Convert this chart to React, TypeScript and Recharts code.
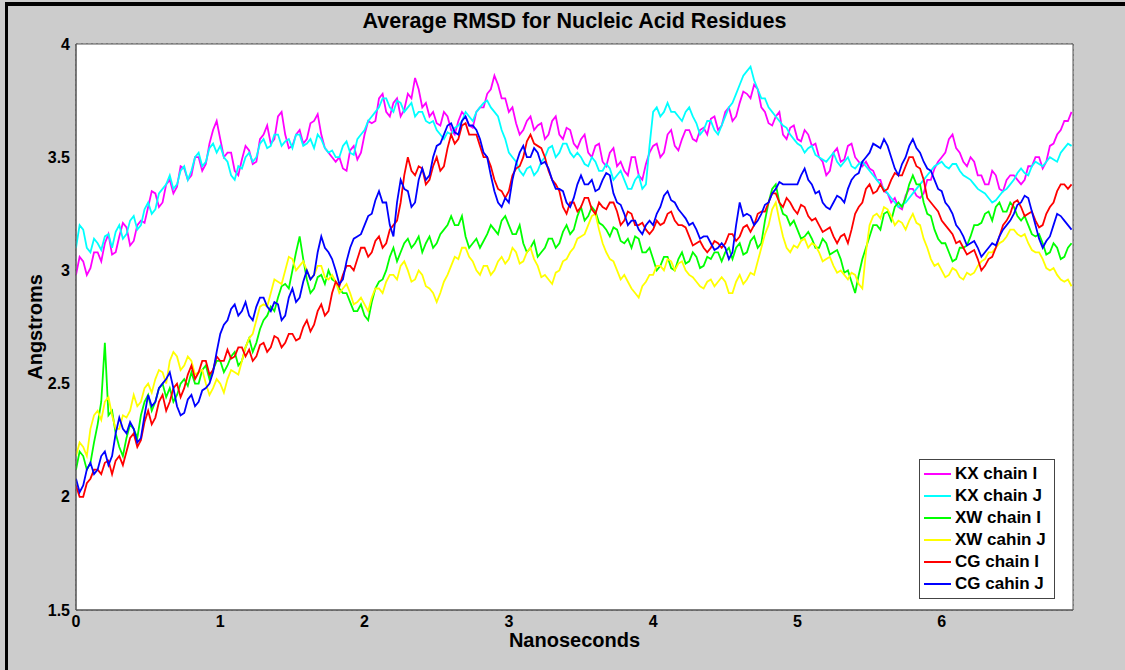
import React from 'react';
import { LineChart, Line, XAxis, YAxis, CartesianGrid, Legend, ReferenceArea } from 'recharts';

// samples every 0.05 ns (0 .. 6.9) plus the in-between samples at +0.025 ns
const SAMPLE_STEP = 0.05;

const kxChainI = [
  2.98, 3.04, 3.01, 3.08, 3.12, 3.07, 3.15, 3.19, 3.13, 3.22,
  3.28, 3.34, 3.3, 3.4, 3.37, 3.45, 3.42, 3.5, 3.47, 3.62,
  3.58, 3.52, 3.44, 3.49, 3.53, 3.48, 3.6, 3.56, 3.68, 3.6,
  3.55, 3.62, 3.58, 3.66, 3.6, 3.52, 3.48, 3.45, 3.53, 3.49,
  3.6, 3.65, 3.76, 3.7, 3.74, 3.68, 3.78, 3.85, 3.72, 3.68,
  3.65, 3.7, 3.62, 3.66, 3.68, 3.63, 3.72, 3.78, 3.86, 3.76,
  3.7, 3.65, 3.62, 3.68, 3.64, 3.58, 3.66, 3.6, 3.63, 3.56,
  3.58, 3.52, 3.55, 3.48, 3.52, 3.46, 3.44, 3.5, 3.42, 3.47,
  3.55, 3.5, 3.6, 3.55, 3.58, 3.62, 3.57, 3.63, 3.67, 3.62,
  3.7, 3.66, 3.74, 3.78, 3.82, 3.72, 3.65, 3.68, 3.6, 3.63,
  3.58, 3.62, 3.55, 3.5, 3.42, 3.52, 3.48, 3.55, 3.5, 3.46,
  3.45, 3.4, 3.35, 3.3, 3.28, 3.33, 3.36, 3.32, 3.4, 3.45,
  3.5, 3.58, 3.54, 3.48, 3.5, 3.42, 3.38, 3.44, 3.36, 3.4,
  3.42, 3.38, 3.46, 3.5, 3.45, 3.55, 3.6, 3.66, 3.7,
];
const kxChainIMid = [
  3.06, 2.98, 3.08, 3.04, 3.16, 3.08, 3.21, 3.11, 3.2, 3.21,
  3.35, 3.28, 3.38, 3.34, 3.46, 3.4, 3.5, 3.44, 3.56, 3.66,
  3.5, 3.52, 3.42, 3.55, 3.47, 3.58, 3.64, 3.58, 3.7, 3.54,
  3.6, 3.56, 3.65, 3.69, 3.54, 3.5, 3.5, 3.44, 3.55, 3.52,
  3.66, 3.66, 3.78, 3.68, 3.76, 3.71, 3.76, 3.8, 3.74, 3.7,
  3.64, 3.68, 3.6, 3.7, 3.64, 3.7, 3.72, 3.8, 3.82, 3.76,
  3.72, 3.6, 3.66, 3.62, 3.65, 3.6, 3.68, 3.58, 3.62, 3.54,
  3.6, 3.5, 3.56, 3.46, 3.54, 3.48, 3.42, 3.5, 3.4, 3.52,
  3.56, 3.52, 3.62, 3.53, 3.62, 3.58, 3.62, 3.6, 3.68, 3.64,
  3.72, 3.68, 3.79, 3.76, 3.8, 3.7, 3.64, 3.7, 3.58, 3.64,
  3.57, 3.6, 3.56, 3.48, 3.44, 3.54, 3.49, 3.56, 3.48, 3.48,
  3.44, 3.4, 3.34, 3.32, 3.27, 3.36, 3.33, 3.34, 3.4, 3.48,
  3.52, 3.6, 3.52, 3.46, 3.48, 3.42, 3.38, 3.42, 3.35, 3.42,
  3.4, 3.4, 3.46, 3.5, 3.48, 3.56, 3.62, 3.66,
];

const kxChainJ = [
  3.1, 3.18, 3.08, 3.12, 3.15, 3.1, 3.2, 3.16, 3.24, 3.2,
  3.3, 3.27, 3.36, 3.42, 3.38, 3.46, 3.44, 3.52, 3.48, 3.56,
  3.55, 3.48, 3.4, 3.45, 3.52, 3.5, 3.58, 3.55, 3.6, 3.57,
  3.54, 3.6, 3.56, 3.54, 3.58, 3.52, 3.5, 3.55, 3.52, 3.58,
  3.62, 3.68, 3.72, 3.76, 3.7, 3.74, 3.72, 3.68, 3.7, 3.65,
  3.62, 3.58, 3.6, 3.64, 3.7, 3.66, 3.72, 3.75, 3.7, 3.62,
  3.52, 3.48, 3.42, 3.46, 3.44, 3.5, 3.55, 3.52, 3.56, 3.5,
  3.5, 3.46, 3.48, 3.44, 3.45, 3.42, 3.4, 3.36, 3.42, 3.38,
  3.7, 3.68, 3.74, 3.7, 3.66, 3.72, 3.65, 3.62, 3.66, 3.6,
  3.68, 3.74, 3.82, 3.88, 3.84, 3.76, 3.72, 3.68, 3.64, 3.6,
  3.56, 3.52, 3.55, 3.5, 3.48, 3.52, 3.46, 3.5, 3.45, 3.48,
  3.44, 3.4, 3.36, 3.32, 3.28, 3.3, 3.34, 3.38, 3.42, 3.46,
  3.48, 3.45, 3.47, 3.42, 3.4, 3.36, 3.34, 3.3, 3.33, 3.36,
  3.4, 3.45, 3.42, 3.48, 3.46, 3.5, 3.48, 3.54, 3.55,
];
const kxChainJMid = [
  3.2, 3.1, 3.14, 3.09, 3.16, 3.17, 3.14, 3.22, 3.18, 3.27,
  3.25, 3.34, 3.38, 3.36, 3.44, 3.4, 3.5, 3.46, 3.54, 3.52,
  3.5, 3.42, 3.46, 3.5, 3.48, 3.56, 3.54, 3.6, 3.55, 3.58,
  3.6, 3.55, 3.58, 3.6, 3.54, 3.53, 3.5, 3.57, 3.51, 3.6,
  3.66, 3.7, 3.76, 3.72, 3.75, 3.7, 3.74, 3.7, 3.66, 3.66,
  3.6, 3.61, 3.63, 3.66, 3.68, 3.7, 3.74, 3.72, 3.68, 3.58,
  3.5, 3.44, 3.45, 3.42, 3.48, 3.54, 3.5, 3.56, 3.52, 3.52,
  3.47, 3.5, 3.44, 3.47, 3.4, 3.44, 3.36, 3.4, 3.36, 3.55,
  3.72, 3.7, 3.7, 3.68, 3.7, 3.68, 3.6, 3.66, 3.62, 3.64,
  3.72, 3.78, 3.86, 3.9, 3.8, 3.76, 3.7, 3.66, 3.63, 3.58,
  3.55, 3.54, 3.51, 3.49, 3.5, 3.48, 3.48, 3.46, 3.47, 3.46,
  3.42, 3.38, 3.34, 3.3, 3.29, 3.32, 3.36, 3.4, 3.44, 3.47,
  3.46, 3.47, 3.44, 3.41, 3.38, 3.35, 3.32, 3.31, 3.35, 3.38,
  3.43, 3.43, 3.46, 3.47, 3.48, 3.49, 3.52, 3.56,
];

const xwChainI = [
  2.12, 2.18, 2.15, 2.32, 2.68, 2.38, 2.22, 2.26, 2.3, 2.36,
  2.45, 2.42, 2.5, 2.48, 2.45, 2.52, 2.55, 2.5, 2.58, 2.56,
  2.6, 2.58, 2.64, 2.6, 2.7, 2.68, 2.78, 2.84, 2.88, 2.94,
  3.0, 3.15, 2.96, 2.92, 2.98, 3.0, 2.95, 2.9, 2.86, 2.82,
  2.8, 2.86, 2.95, 3.0, 3.1, 3.08, 3.14, 3.12, 3.08, 3.15,
  3.12, 3.18, 3.24, 3.2, 3.15, 3.12, 3.1, 3.16, 3.18, 3.22,
  3.2, 3.16, 3.12, 3.1, 3.06, 3.1, 3.14, 3.12, 3.2, 3.18,
  3.28, 3.24, 3.26, 3.2, 3.15, 3.18, 3.12, 3.1, 3.14, 3.08,
  3.05, 3.02, 3.06, 3.0, 3.08, 3.04, 3.06, 3.02, 3.05, 3.08,
  3.08, 3.05, 3.12, 3.08, 3.15, 3.12, 3.3, 3.38, 3.25, 3.2,
  3.18, 3.15, 3.14, 3.1, 3.12, 3.08, 3.05, 3.0, 2.9, 3.05,
  3.15, 3.2, 3.25, 3.22, 3.3, 3.32, 3.42, 3.38, 3.25, 3.18,
  3.12, 3.08, 3.05, 3.1, 3.15, 3.2, 3.25, 3.22, 3.3, 3.26,
  3.28, 3.22, 3.2, 3.15, 3.12, 3.08, 3.1, 3.06, 3.12,
];
const xwChainIMid = [
  2.2, 2.12, 2.24, 2.42, 2.36, 2.28, 2.18, 2.32, 2.26, 2.42,
  2.38, 2.48, 2.44, 2.42, 2.5, 2.49, 2.5, 2.56, 2.52, 2.6,
  2.55, 2.62, 2.58, 2.66, 2.64, 2.74, 2.8, 2.82, 2.93, 2.92,
  3.08, 3.05, 2.9, 2.97, 2.94, 2.96, 2.92, 2.9, 2.82, 2.85,
  2.78, 2.92, 2.96, 3.06, 3.04, 3.12, 3.1, 3.15, 3.12, 3.1,
  3.16, 3.2, 3.2, 3.24, 3.1, 3.14, 3.13, 3.2, 3.16, 3.24,
  3.16, 3.2, 3.08, 3.13, 3.08, 3.14, 3.1, 3.17, 3.16, 3.24,
  3.22, 3.28, 3.21, 3.18, 3.19, 3.13, 3.14, 3.15, 3.08, 3.1,
  3.0, 3.06, 3.01, 3.05, 3.03, 3.08, 3.01, 3.06, 3.08, 3.04,
  3.1, 3.1, 3.07, 3.13, 3.1, 3.22, 3.36, 3.3, 3.24, 3.22,
  3.14, 3.17, 3.1, 3.14, 3.07, 3.09, 2.99, 2.95, 2.98, 3.1,
  3.2, 3.18, 3.26, 3.28, 3.28, 3.38, 3.38, 3.3, 3.24, 3.14,
  3.12, 3.04, 3.1, 3.11, 3.2, 3.21, 3.26, 3.28, 3.26, 3.3,
  3.24, 3.24, 3.16, 3.16, 3.07, 3.12, 3.05, 3.1,
];

const xwCahinJ = [
  2.18, 2.22, 2.3, 2.38, 2.42, 2.36, 2.3, 2.35, 2.45, 2.42,
  2.5, 2.52, 2.55, 2.6, 2.62, 2.58, 2.6, 2.55, 2.5, 2.48,
  2.5, 2.52, 2.55, 2.6, 2.7, 2.78, 2.85, 2.9, 2.95, 3.0,
  3.05, 3.02, 3.0, 2.98, 3.02, 2.96, 2.95, 2.92, 2.9, 2.86,
  2.85, 2.88, 2.92, 2.95, 2.98, 3.02, 3.0, 2.96, 2.98, 2.92,
  2.86, 2.95, 3.02, 3.05, 3.1, 3.04, 2.98, 3.02, 3.0, 3.06,
  3.05, 3.08, 3.04, 3.1, 3.02, 2.98, 2.94, 3.0, 3.05, 3.1,
  3.15, 3.2, 3.25, 3.12, 3.05, 3.0, 2.98, 2.92, 2.88, 2.95,
  2.98, 3.02, 3.05, 3.0, 3.04, 2.98, 2.95, 2.92, 2.96, 2.95,
  2.95, 2.9, 2.98, 2.96, 2.98, 3.1, 3.2, 3.3, 3.15, 3.08,
  3.1, 3.14, 3.12, 3.08, 3.05, 3.02, 3.0, 2.96, 2.98, 2.92,
  3.2, 3.25, 3.28, 3.24, 3.22, 3.18, 3.25, 3.2, 3.1, 3.02,
  3.0, 2.98, 3.0, 2.96, 2.98, 3.02, 3.05, 3.08, 3.12, 3.15,
  3.18, 3.15, 3.12, 3.08, 3.05, 3.0, 2.98, 2.95, 2.93,
];
const xwCahinJMid = [
  2.24, 2.18, 2.36, 2.34, 2.44, 2.3, 2.36, 2.38, 2.4, 2.48,
  2.46, 2.56, 2.5, 2.64, 2.56, 2.62, 2.54, 2.56, 2.45, 2.52,
  2.46, 2.56, 2.54, 2.66, 2.72, 2.84, 2.84, 2.96, 2.94, 3.06,
  3.0, 3.04, 2.96, 3.02, 2.97, 2.98, 2.9, 2.94, 2.85, 2.88,
  2.82, 2.92, 2.9, 2.98, 2.96, 3.04, 2.95, 3.0, 2.93, 2.9,
  2.9, 2.98, 3.06, 3.1, 3.06, 3.0, 3.02, 2.98, 3.04, 3.03,
  3.1, 3.03, 3.08, 3.05, 2.97, 2.96, 2.99, 3.04, 3.08, 3.14,
  3.16, 3.24, 3.18, 3.08, 3.04, 2.96, 2.95, 2.9, 2.93, 2.98,
  3.02, 3.0, 3.04, 3.03, 3.0, 2.97, 2.93, 2.95, 2.93, 2.97,
  2.9, 2.95, 2.94, 2.99, 3.04, 3.16, 3.27, 3.22, 3.1, 3.11,
  3.13, 3.1, 3.11, 3.04, 3.06, 2.99, 2.98, 2.99, 2.94, 3.08,
  3.24, 3.23, 3.27, 3.2, 3.21, 3.22, 3.21, 3.14, 3.05, 3.03,
  2.97, 3.01, 2.97, 2.99, 2.99, 3.04, 3.08, 3.1, 3.13, 3.18,
  3.16, 3.16, 3.09, 3.08, 3.01, 3.01, 2.96, 2.96,
];

const cgChainI = [
  2.05, 2.0, 2.08, 2.12, 2.15, 2.1, 2.18, 2.2, 2.28, 2.25,
  2.38, 2.35, 2.45, 2.42, 2.5, 2.48, 2.58, 2.55, 2.6, 2.56,
  2.6, 2.65, 2.62, 2.66, 2.65, 2.62, 2.68, 2.66, 2.7, 2.68,
  2.72, 2.7, 2.78, 2.76, 2.85, 2.82, 2.95, 2.98, 3.02, 3.05,
  3.1, 3.08, 3.15, 3.12, 3.2, 3.3, 3.5, 3.42, 3.45, 3.4,
  3.5, 3.46, 3.6, 3.58, 3.65, 3.6, 3.55, 3.5, 3.4, 3.35,
  3.35, 3.45, 3.5, 3.6, 3.55, 3.5, 3.4, 3.35, 3.25, 3.3,
  3.28, 3.32, 3.25, 3.28, 3.3, 3.26, 3.22, 3.25, 3.2, 3.18,
  3.18, 3.2, 3.25, 3.22, 3.2, 3.15, 3.12, 3.1, 3.1, 3.12,
  3.12, 3.16, 3.15, 3.2, 3.2, 3.26, 3.3, 3.34, 3.28, 3.3,
  3.25, 3.28, 3.22, 3.2, 3.18, 3.15, 3.15, 3.12, 3.25, 3.3,
  3.38, 3.35, 3.35, 3.4, 3.42, 3.46, 3.5, 3.45, 3.32, 3.28,
  3.22, 3.18, 3.12, 3.1, 3.08, 3.05, 3.02, 3.06, 3.15, 3.22,
  3.3, 3.28, 3.25, 3.22, 3.2, 3.28, 3.35, 3.38, 3.38,
];
const cgChainIMid = [
  2.0, 2.06, 2.12, 2.1, 2.16, 2.16, 2.14, 2.26, 2.22, 2.33,
  2.32, 2.42, 2.38, 2.48, 2.44, 2.54, 2.52, 2.6, 2.54, 2.62,
  2.6, 2.61, 2.66, 2.62, 2.6, 2.67, 2.64, 2.71, 2.66, 2.72,
  2.69, 2.75, 2.73, 2.82, 2.8, 2.9, 2.93, 3.02, 3.0, 3.1,
  3.06, 3.13, 3.1, 3.18, 3.22, 3.42, 3.44, 3.46, 3.38, 3.46,
  3.44, 3.54, 3.56, 3.64, 3.6, 3.6, 3.5, 3.46, 3.36, 3.32,
  3.42, 3.46, 3.57, 3.56, 3.54, 3.44, 3.38, 3.28, 3.3, 3.26,
  3.32, 3.27, 3.3, 3.27, 3.3, 3.2, 3.26, 3.2, 3.21, 3.16,
  3.22, 3.21, 3.26, 3.2, 3.19, 3.11, 3.13, 3.08, 3.13, 3.1,
  3.16, 3.13, 3.19, 3.17, 3.25, 3.26, 3.34, 3.3, 3.32, 3.27,
  3.29, 3.24, 3.23, 3.17, 3.19, 3.12, 3.16, 3.18, 3.28, 3.36,
  3.34, 3.38, 3.36, 3.43, 3.42, 3.5, 3.46, 3.4, 3.3, 3.26,
  3.2, 3.16, 3.13, 3.07, 3.09, 3.0, 3.05, 3.1, 3.2, 3.25,
  3.31, 3.24, 3.26, 3.19, 3.25, 3.3, 3.38, 3.36,
];

const cgCahinJ = [
  2.08, 2.05, 2.15, 2.12, 2.2, 2.18, 2.35, 2.28, 2.3, 2.26,
  2.45, 2.42, 2.5, 2.55, 2.4, 2.37, 2.45, 2.42, 2.48, 2.55,
  2.72, 2.78, 2.85, 2.82, 2.8, 2.84, 2.88, 2.82, 2.85, 2.8,
  2.92, 2.88, 3.0, 2.98, 3.15, 3.08, 3.0, 2.96, 3.1, 3.15,
  3.2, 3.25, 3.35, 3.3, 3.15, 3.4, 3.35, 3.3, 3.45, 3.42,
  3.55, 3.6, 3.65, 3.6, 3.68, 3.64, 3.58, 3.5, 3.35, 3.28,
  3.3, 3.47, 3.55, 3.5, 3.52, 3.48, 3.4, 3.36, 3.3, 3.32,
  3.42, 3.38, 3.35, 3.4, 3.42, 3.3, 3.25, 3.22, 3.18, 3.2,
  3.2, 3.28, 3.35, 3.3, 3.25, 3.2, 3.18, 3.15, 3.12, 3.1,
  3.1, 3.08, 3.3, 3.25, 3.2, 3.25, 3.3, 3.36, 3.38, 3.38,
  3.38, 3.45, 3.38, 3.35, 3.28, 3.3, 3.32, 3.36, 3.42, 3.48,
  3.52, 3.55, 3.58, 3.5, 3.42, 3.5, 3.58, 3.52, 3.45, 3.4,
  3.35, 3.28, 3.2, 3.15, 3.12, 3.1, 3.08, 3.12, 3.15, 3.2,
  3.25, 3.3, 3.32, 3.2, 3.1, 3.15, 3.25, 3.22, 3.18,
];
const cgCahinJMid = [
  2.02, 2.12, 2.1, 2.18, 2.14, 2.28, 2.3, 2.33, 2.24, 2.36,
  2.4, 2.48, 2.52, 2.48, 2.36, 2.43, 2.4, 2.47, 2.5, 2.64,
  2.76, 2.83, 2.8, 2.86, 2.78, 2.88, 2.84, 2.86, 2.78, 2.88,
  2.86, 2.95, 2.96, 3.08, 3.1, 3.05, 2.94, 3.04, 3.14, 3.16,
  3.24, 3.31, 3.3, 3.2, 3.3, 3.36, 3.28, 3.4, 3.4, 3.5,
  3.56, 3.64, 3.61, 3.66, 3.64, 3.62, 3.52, 3.42, 3.3, 3.32,
  3.4, 3.52, 3.5, 3.54, 3.47, 3.45, 3.36, 3.35, 3.28, 3.38,
  3.38, 3.4, 3.36, 3.43, 3.34, 3.29, 3.2, 3.22, 3.16, 3.22,
  3.25, 3.33, 3.31, 3.27, 3.23, 3.21, 3.14, 3.15, 3.09, 3.12,
  3.05, 3.2, 3.24, 3.24, 3.22, 3.29, 3.34, 3.39, 3.38, 3.38,
  3.42, 3.4, 3.34, 3.3, 3.27, 3.33, 3.3, 3.4, 3.43, 3.5,
  3.56, 3.54, 3.55, 3.45, 3.47, 3.55, 3.54, 3.48, 3.44, 3.36,
  3.3, 3.25, 3.18, 3.11, 3.13, 3.06, 3.1, 3.11, 3.18, 3.22,
  3.29, 3.33, 3.26, 3.14, 3.13, 3.2, 3.24, 3.2,
];

const xTicks = [0, 1, 2, 3, 4, 5, 6];
const yTicks = [1.5, 2, 2.5, 3, 3.5, 4];

const seriesList = [
  { key: 'kxI', name: 'KX chain I', color: '#ff00ff', values: kxChainI, mids: kxChainIMid },
  { key: 'kxJ', name: 'KX chain J', color: '#00ffff', values: kxChainJ, mids: kxChainJMid },
  { key: 'xwI', name: 'XW chain I', color: '#00ff00', values: xwChainI, mids: xwChainIMid },
  { key: 'xwJ', name: 'XW cahin J', color: '#ffff00', values: xwCahinJ, mids: xwCahinJMid },
  { key: 'cgI', name: 'CG chain I', color: '#ff0000', values: cgChainI, mids: cgChainIMid },
  { key: 'cgJ', name: 'CG cahin J', color: '#0000ff', values: cgCahinJ, mids: cgCahinJMid },
];

const chartData: Record<string, number>[] = [];
kxChainI.forEach((_, i) => {
  const t = i * SAMPLE_STEP;
  const row: Record<string, number> = { t: Math.round(t * 1000) / 1000 };
  seriesList.forEach(s => { row[s.key] = s.values[i]; });
  chartData.push(row);
  if (i < kxChainIMid.length) {
    const mid: Record<string, number> = { t: Math.round((t + SAMPLE_STEP / 2) * 1000) / 1000 };
    seriesList.forEach(s => { mid[s.key] = s.mids[i]; });
    chartData.push(mid);
  }
});

const FONT = '"Liberation Sans", Arial, Helvetica, sans-serif';
const tickStyle = { fontSize: 16, fontWeight: 700, fill: '#000', fontFamily: FONT };

const LegendBox = () => (
  <div
    style={{
      background: '#fff',
      border: '1px solid #444',
      padding: '3px 8px 3px 4px',
      fontFamily: FONT,
      fontWeight: 700,
      fontSize: 17,
      color: '#000',
    }}
  >
    {seriesList.map(s => (
      <div key={s.key} style={{ display: 'flex', alignItems: 'center', height: 22 }}>
        <span style={{ display: 'inline-block', width: 27, height: 2, background: s.color, marginRight: 4 }} />
        <span>{s.name}</span>
      </div>
    ))}
  </div>
);

export default function App() {
  return (
    <div style={{ position: 'fixed', left: 0, top: 0, width: 1125, height: 670, background: '#cccccc', overflow: 'hidden' }}>
      <div style={{ position: 'absolute', left: 5, top: 2, width: 1120, height: 4, background: '#000' }} />
      <div style={{ position: 'absolute', left: 5, top: 2, width: 3, height: 668, background: '#000' }} />
      <div
        style={{
          position: 'absolute', left: 0, width: 1149, top: 9, textAlign: 'center',
          fontFamily: FONT, fontWeight: 700, fontSize: 21.5, color: '#000',
        }}
      >
        Average RMSD for Nucleic Acid Residues
      </div>
      <LineChart
        width={1125}
        height={670}
        data={chartData}
        margin={{ top: 44, right: 52, left: 6, bottom: 0 }}
        style={{ position: 'absolute', left: 0, top: 0 }}
      >
        <ReferenceArea x1={0} x2={6.91} y1={1.5} y2={4} fill="#ffffff" fillOpacity={1} stroke="none" />
        <CartesianGrid stroke="#666" strokeDasharray="2 3" />
        <XAxis
          type="number"
          dataKey="t"
          domain={[0, 6.91]}
          ticks={xTicks}
          allowDataOverflow
          height={60}
          tickLine={false}
          tickSize={0}
          tickMargin={6}
          axisLine={{ stroke: '#555' }}
          tick={tickStyle}
          label={({ viewBox }: any) => {
            const cx = viewBox.x + viewBox.width / 2;
            const cy = viewBox.y + 30;
            return (
              <text x={cx} y={cy} textAnchor="middle" dominantBaseline="central" fontFamily={FONT} fontWeight={700} fontSize={20} fill="#000">
                Nanoseconds
              </text>
            );
          }}
        />
        <YAxis
          type="number"
          domain={[1.5, 4]}
          ticks={yTicks}
          allowDataOverflow
          width={70}
          tickLine={false}
          tickSize={0}
          tickMargin={6}
          axisLine={{ stroke: '#555' }}
          tick={tickStyle}
          label={({ viewBox }: any) => {
            const cx = viewBox.x + 29;
            const cy = viewBox.y + viewBox.height / 2;
            return (
              <text x={cx} y={cy} transform={`rotate(-90 ${cx} ${cy})`} textAnchor="middle" dominantBaseline="central" fontFamily={FONT} fontWeight={700} fontSize={20} fill="#000">
                Angstroms
              </text>
            );
          }}
        />
        <ReferenceArea x1={0} x2={6.91} y1={1.5} y2={4} fill="none" stroke="#555" strokeWidth={1} />
        {seriesList.map(s => (
          <Line
            key={s.key}
            type="linear"
            dataKey={s.key}
            name={s.name}
            stroke={s.color}
            strokeWidth={1.8}
            dot={false}
            isAnimationActive={false}
          />
        ))}
        <Legend
          layout="vertical"
          align="center"
          verticalAlign="middle"
          wrapperStyle={{ left: 919, top: 459, width: 'auto' }}
          content={() => <LegendBox />}
        />
      </LineChart>
    </div>
  );
}
